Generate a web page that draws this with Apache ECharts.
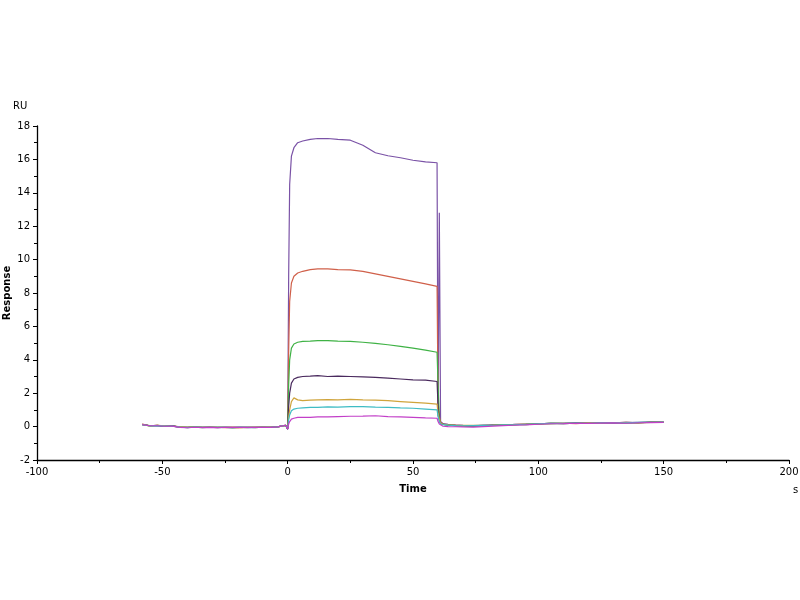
<!DOCTYPE html>
<html>
<head>
<meta charset="utf-8">
<script src="https://cdn.jsdelivr.net/npm/echarts@6/dist/echarts.min.js"></script>
<style>
  html, body { margin: 0; padding: 0; background: #fff; }
  #chart { width: 800px; height: 600px; }
</style>
</head>
<body>
<div id="chart"></div>
<script>
// time points, s
const times = [
  -58, -55, -52, -49, -46, -43, -40, -37, -34, -31, -28, -25, -22, -19, -16, -13, -10, -7, -4, -2, -0.8, 0,
  0.4, 0.8, 1.5, 2.5, 4, 6, 9, 12, 16, 20, 25, 30, 35, 40, 45, 50, 55, 59.6,
  60, 60.5, 61, 62, 64, 67, 70, 74, 78, 82, 86, 90, 95, 100, 105, 110, 115, 120, 125, 130, 135, 140, 145, 150
]

// response (RU), baseline / association / dissociation
const curve1 = [
  0.12, 0.05, 0.06, 0.02, 0.03, -0.03, -0.05, -0.03, -0.04, -0.04, -0.05, -0.05, -0.06, -0.05, -0.05, -0.05, -0.04, -0.04, -0.02, 0.04, 0.08, -0.15,
  9.0, 14.5, 16.2, 16.7, 17.0, 17.1, 17.2, 17.25, 17.25, 17.2, 17.15, 16.85, 16.4, 16.22, 16.1, 15.95, 15.85, 15.8,
  0.6, 12.8, 0.3, 0.18, 0.14, 0.1, 0.08, 0.06, 0.08, 0.1, 0.12, 0.13, 0.15, 0.17, 0.2, 0.18, 0.2, 0.22, 0.2, 0.24, 0.22, 0.25, 0.26, 0.28
]
const curve2 = [
  0.15, 0.04, 0.08, 0.03, 0.05, -0.02, -0.06, -0.02, -0.05, -0.03, -0.04, -0.06, -0.05, -0.06, -0.04, -0.06, -0.03, -0.05, -0.01, 0.05, 0.07, -0.12,
  4.5, 7.5, 8.6, 9.0, 9.2, 9.3, 9.4, 9.45, 9.45, 9.4, 9.38, 9.3, 9.15, 9.0, 8.85, 8.7, 8.55, 8.4,
  1.5, 0.6, 0.25, 0.15, 0.12, 0.07, 0.05, 0.03, 0.05, 0.08, 0.1, 0.12, 0.14, 0.15, 0.18, 0.2, 0.18, 0.22, 0.2, 0.23, 0.25, 0.22, 0.26, 0.27
]
const curve3 = [
  0.1, 0.06, 0.05, 0.02, 0.04, -0.04, -0.05, -0.03, -0.06, -0.04, -0.05, -0.04, -0.06, -0.05, -0.05, -0.04, -0.05, -0.04, -0.02, 0.04, 0.06, -0.14,
  2.5, 4.0, 4.7, 4.95, 5.05, 5.1, 5.12, 5.15, 5.15, 5.12, 5.1, 5.05, 4.98, 4.9, 4.8, 4.7, 4.58, 4.45,
  2.5, 0.5, 0.2, 0.13, 0.1, 0.06, 0.04, 0.03, 0.05, 0.07, 0.09, 0.11, 0.12, 0.16, 0.19, 0.18, 0.2, 0.21, 0.22, 0.21, 0.24, 0.24, 0.25, 0.26
]
const curve4 = [
  0.14, 0.05, 0.07, 0.01, 0.04, -0.03, -0.04, -0.04, -0.05, -0.04, -0.06, -0.05, -0.05, -0.05, -0.06, -0.05, -0.04, -0.05, -0.02, 0.05, 0.08, -0.16,
  1.2, 2.0, 2.6, 2.85, 2.95, 3.0, 3.02, 3.05, 3.0, 3.02, 3.0, 2.98, 2.95, 2.9, 2.85, 2.8, 2.78, 2.7,
  1.2, 0.4, 0.2, 0.13, 0.09, 0.05, 0.06, 0.05, 0.07, 0.08, 0.1, 0.12, 0.14, 0.17, 0.2, 0.2, 0.22, 0.2, 0.23, 0.22, 0.25, 0.24, 0.27, 0.26
]
const curve5 = [
  0.13, 0.03, 0.08, 0.04, 0.02, -0.02, -0.05, -0.03, -0.04, -0.05, -0.04, -0.05, -0.05, -0.06, -0.05, -0.05, -0.04, -0.03, -0.02, 0.04, 0.07, -0.13,
  0.6, 1.0, 1.5, 1.72, 1.6, 1.55, 1.58, 1.6, 1.62, 1.6, 1.63, 1.6, 1.58, 1.55, 1.5, 1.45, 1.4, 1.35,
  0.8, 0.45, 0.2, 0.14, 0.1, 0.08, 0.07, 0.08, 0.08, 0.09, 0.11, 0.12, 0.15, 0.16, 0.2, 0.19, 0.2, 0.22, 0.21, 0.23, 0.24, 0.23, 0.25, 0.27
]
const curve6 = [
  0.11, 0.04, 0.06, 0.03, 0.03, -0.03, -0.06, -0.03, -0.05, -0.04, -0.05, -0.05, -0.06, -0.04, -0.05, -0.06, -0.04, -0.04, -0.02, 0.05, 0.07, -0.14,
  0.4, 0.7, 0.95, 1.05, 1.1, 1.12, 1.15, 1.15, 1.18, 1.17, 1.2, 1.2, 1.17, 1.15, 1.12, 1.1, 1.05, 1.0,
  0.6, 0.3, 0.15, 0.12, 0.09, 0.06, 0.05, 0.06, 0.07, 0.08, 0.1, 0.11, 0.14, 0.17, 0.19, 0.2, 0.21, 0.2, 0.22, 0.23, 0.22, 0.25, 0.26, 0.27
]
const curve7 = [
  0.12, 0.05, 0.05, 0.02, 0.03, -0.05, -0.07, -0.04, -0.06, -0.05, -0.06, -0.04, -0.05, -0.05, -0.05, -0.05, -0.04, -0.05, -0.02, 0.04, 0.08, -0.15,
  0.15, 0.3, 0.45, 0.5, 0.55, 0.55, 0.55, 0.58, 0.58, 0.6, 0.62, 0.63, 0.65, 0.6, 0.58, 0.55, 0.52, 0.5,
  0.3, 0.15, 0.05, 0.02, 0.0, -0.01, -0.02, -0.03, 0.0, 0.03, 0.06, 0.08, 0.1, 0.14, 0.17, 0.18, 0.2, 0.19, 0.21, 0.22, 0.2, 0.23, 0.24, 0.25
]

const curves = [curve1, curve2, curve3, curve4, curve5, curve6, curve7]
const colors = ['#7a52a6', '#d0604a', '#3fb245', '#4a2a5e', '#cfa43c', '#3fbcc4', '#c23fc8']

const font = 'DejaVu Sans'
const axisStyle = { onZero: false, lineStyle: { color: '#000', width: 1.3 } }

const chart = echarts.init(document.getElementById('chart'))
chart.setOption({
  animation: false,
  backgroundColor: '#fff',
  grid: { left: 37, right: 11, top: 126, bottom: 140, containLabel: false, outerBoundsMode: 'none' },
  xAxis: {
    type: 'value',
    min: -100,
    max: 200,
    interval: 50,
    name: 'Time',
    nameLocation: 'middle',
    nameGap: 24,
    nameMoveOverlap: false,
    nameTextStyle: { fontFamily: font, fontSize: 10, fontWeight: 'bold', color: '#000' },
    axisLine: axisStyle,
    axisTick: { show: true, length: 4, lineStyle: { color: '#000' } },
    minorTick: { show: true, splitNumber: 2, length: 3, lineStyle: { color: '#000' } },
    axisLabel: { fontFamily: font, fontSize: 10, color: '#000', margin: 7 },
    splitLine: { show: false }
  },
  yAxis: {
    type: 'value',
    min: -2,
    max: 18,
    interval: 2,
    name: 'Response',
    nameLocation: 'middle',
    nameGap: 25,
    nameMoveOverlap: false,
    nameTextStyle: { fontFamily: font, fontSize: 10, fontWeight: 'bold', color: '#000' },
    axisLine: { show: true, ...axisStyle },
    axisTick: { show: true, length: 4, lineStyle: { color: '#000' } },
    minorTick: { show: true, splitNumber: 2, length: 3, lineStyle: { color: '#000' } },
    axisLabel: { fontFamily: font, fontSize: 10, color: '#000', margin: 7 },
    splitLine: { show: false }
  },
  graphic: [
    { type: 'text', left: 13, top: 101, style: { text: 'RU', fontFamily: font, fontSize: 10, fill: '#000' } },
    { type: 'text', left: 793, top: 485, style: { text: 's', fontFamily: font, fontSize: 10, fill: '#000' } }
  ],
  series: curves.map((c, i) => ({
    type: 'line',
    showSymbol: false,
    symbol: 'none',
    color: colors[i],
    lineStyle: { width: 1.2 },
    data: times.map((t, j) => [t, c[j]])
  }))
})
</script>
</body>
</html>
